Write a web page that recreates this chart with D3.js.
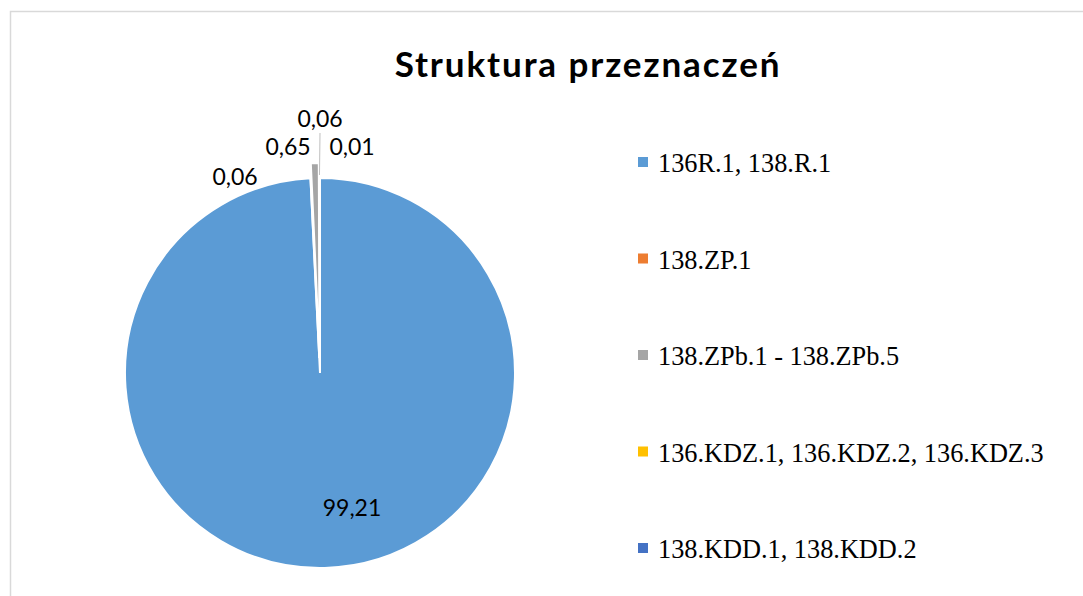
<!DOCTYPE html>
<meta charset="utf-8">
<script src="https://cdn.jsdelivr.net/npm/d3@7"></script>
<style>
  body { margin: 0; background: #fff; }
</style>
<div id="chart"></div>
<script>
// data
var categories = ["136R.1, 138.R.1", "138.ZP.1", "138.ZPb.1 - 138.ZPb.5", "136.KDZ.1, 136.KDZ.2, 136.KDZ.3", "138.KDD.1, 138.KDD.2"];
var values = [99.21, 0.06, 0.65, 0.06, 0.01];
var labels = ["99,21", "0,06", "0,65", "0,06", "0,01"];
var colors = ["#5B9BD5", "#ED7D31", "#A5A5A5", "#FFC000", "#4472C4"];

var width = 1083, height = 596;
var cx = 320, cy = 373, r = 195;
var explode = 15;

var svg = d3.select("#chart").append("svg")
  .attr("width", width)
  .attr("height", height);

// chart frame
svg.append("rect")
  .attr("x", 10.5).attr("y", 11.5)
  .attr("width", 1200).attr("height", 800)
  .attr("fill", "none")
  .attr("stroke", "#d9d9d9")
  .attr("stroke-width", 1.5);

svg.append("text")
  .attr("x", 588).attr("y", 77)
  .attr("text-anchor", "middle")
  .style("font-family", "Lato, sans-serif")
  .style("font-weight", "bold")
  .style("font-size", "35px")
  .style("letter-spacing", "1.9px")
  .attr("fill", "#000")
  .text("Struktura przeznaczeń");

var pie = d3.pie().sort(null).value(function(d) { return d; });
var arcs = pie(values);
var arc = d3.arc().innerRadius(0).outerRadius(r);

var g = svg.append("g").attr("transform", "translate(" + cx + "," + cy + ")");

g.selectAll("path")
  .data(arcs)
  .enter()
  .append("path")
    .attr("d", arc)
    .attr("fill", function(d, i) { return colors[i]; })
    .attr("stroke", "#fff")
    .attr("stroke-width", 2)
    .attr("transform", function(d, i) {
      if (i == 0) return null;
      var a = (d.startAngle + d.endAngle) / 2;
      return "translate(" + (explode * Math.sin(a)) + "," + (-explode * Math.cos(a)) + ")";
    });

// label spots for the thin slices (shifted apart so they do not overlap)
var labelSpots = [null, [-85, -188], [-32, -218], [0, -246], [32, -218]];

// leader line for the yellow slice
var ya = (arcs[3].startAngle + arcs[3].endAngle) / 2;
g.append("line")
  .attr("x1", 0).attr("x2", (r + explode) * Math.sin(ya))
  .attr("y1", -240).attr("y2", -(r + explode - 12) * Math.cos(ya))
  .attr("stroke", "#bfbfbf")
  .attr("stroke-width", 1);

g.selectAll("text.lbl")
  .data(arcs)
  .enter()
  .append("text")
    .attr("class", "lbl")
    .attr("text-anchor", "middle")
    .style("font-family", "Lato, sans-serif")
    .style("font-size", "23px")
    .attr("fill", "#000")
    .attr("x", function(d, i) { return i == 0 ? 32 : labelSpots[i][0]; })
    .attr("y", function(d, i) { return i == 0 ? 143 : labelSpots[i][1]; })
    .text(function(d, i) { return labels[i]; });

// legend
var legend = svg.append("g").attr("transform", "translate(638,0)");
var legY = d3.scalePoint().domain(categories).range([172, 558]);

legend.selectAll("rect")
  .data(categories)
  .enter()
  .append("rect")
    .attr("x", 0)
    .attr("y", function(d) { return legY(d) - 15; })
    .attr("width", 10).attr("height", 10)
    .attr("fill", function(d, i) { return colors[i]; });

legend.selectAll("text")
  .data(categories)
  .enter()
  .append("text")
    .attr("x", 20)
    .attr("y", function(d) { return legY(d); })
    .style("font-family", "'Liberation Serif', 'Times New Roman', serif")
    .style("font-size", "26.3px")
    .attr("fill", "#000")
    .text(function(d) { return d; });
</script>
